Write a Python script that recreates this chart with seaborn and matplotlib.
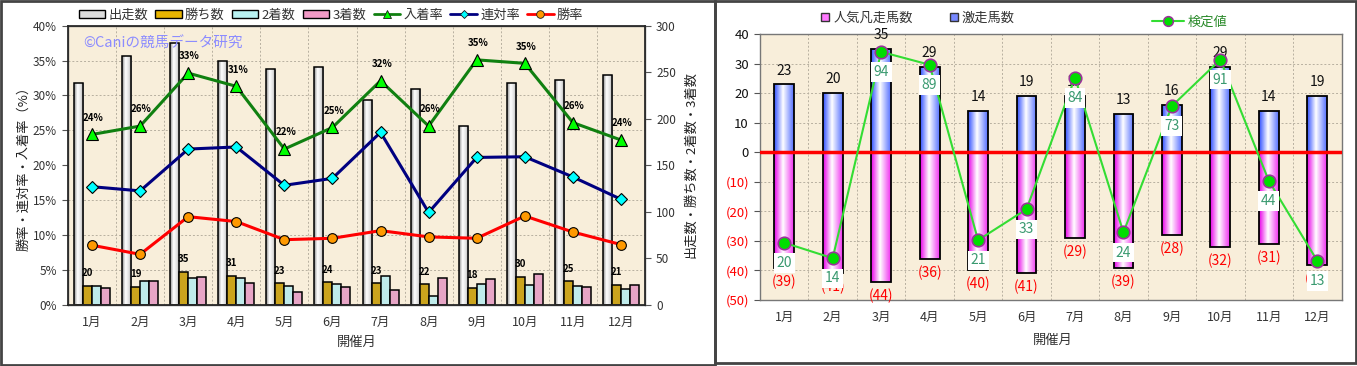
import numpy as np
import pandas as pd
import matplotlib
matplotlib.use("Agg")
import matplotlib.pyplot as plt
import seaborn as sns
from matplotlib.colors import LinearSegmentedColormap
from matplotlib.lines import Line2D
from matplotlib.patches import Patch, Rectangle

sns.set_theme(style="white")
plt.rcParams["font.family"] = ["Noto Sans CJK JP", "DejaVu Sans"]

# ---- data ----
months = ["1月", "2月", "3月", "4月", "5月", "6月", "7月", "8月", "9月", "10月", "11月", "12月"]

# left chart: counts
starts = [238, 267, 281, 262, 253, 256, 220, 232, 192, 238, 242, 247]
wins = [20, 19, 35, 31, 23, 24, 23, 22, 18, 30, 25, 21]
seconds = [20, 25, 28, 28, 20, 22, 31, 9, 22, 21, 20, 17]
thirds = [18, 25, 30, 23, 13, 19, 16, 29, 27, 33, 19, 21]
# left chart: rates (%)
place_rate = [24.4, 25.6, 33.2, 31.3, 22.3, 25.4, 32.1, 25.6, 35.1, 34.6, 26.1, 23.6]
quinella_rate = [16.9, 16.3, 22.3, 22.6, 17.1, 18.1, 24.7, 13.2, 21.1, 21.2, 18.3, 15.1]
win_rate = [8.5, 7.2, 12.6, 11.9, 9.3, 9.5, 10.6, 9.7, 9.5, 12.7, 10.4, 8.6]

# right chart
gekisou = [23, 20, 35, 29, 14, 19, 19, 13, 16, 29, 14, 19]
bonsou = [39, 41, 44, 36, 40, 41, 29, 39, 28, 32, 31, 38]
kentei = [20, 14, 94, 89, 21, 33, 84, 24, 73, 91, 44, 13]

bg = "#F8EEDA"
grid_kw = dict(color="#b8b0a0", linestyle=(0, (2, 2)), linewidth=0.7)
W, H = 1357, 366


def box(l, t, r, b):
    return [l / W, 1 - b / H, (r - l) / W, (b - t) / H]


def shade(ax, patch, cmap):
    # cylinder-like gradient clipped to the bar
    x0, y0 = patch.get_x(), patch.get_y()
    w, h = patch.get_width(), patch.get_height()
    grad = np.linspace(0, 1, 64).reshape(1, -1)
    im = ax.imshow(grad, extent=[x0, x0 + w, y0, y0 + h], aspect="auto",
                   cmap=cmap, origin="lower", zorder=patch.get_zorder() - 0.05)
    im.set_clip_path(patch)
    patch.set_facecolor("none")


cm_white = LinearSegmentedColormap.from_list("w", [(0, "#8a8a8a"), (0.35, "#ffffff"), (0.7, "#e0e0e0"), (1, "#9a9a9a")])
cm_blue = LinearSegmentedColormap.from_list("b", [(0, "#3050ff"), (0.45, "#ffffff"), (1, "#5570ff")])
cm_pink = LinearSegmentedColormap.from_list("p", [(0, "#e800e8"), (0.45, "#ffffff"), (1, "#f030f0")])

fig = plt.figure(figsize=(13.57, 3.66), dpi=100)
pos = np.arange(len(months))

# ================= left chart =================
ax = fig.add_axes(box(68, 25.7, 645, 304.5))
ax.set_facecolor(bg)

wide = pd.DataFrame({"開催月": months, "出走数": starts, "勝ち数": wins, "2着数": seconds, "3着数": thirds})
long = wide.melt(id_vars="開催月", var_name="系列", value_name="頭数")
bar_order = ["出走数", "勝ち数", "2着数", "3着数"]
bar_cols = ["#eeeeee", "#e8b400", "#b8f2f2", "#f29ac6"]
sns.barplot(data=long, x="開催月", y="頭数", hue="系列", hue_order=bar_order, palette=bar_cols,
            width=0.75, edgecolor="black", linewidth=1.1, legend=False, ax=ax, zorder=2)
for p in ax.containers[0]:
    shade(ax, p, cm_white)

ax2 = ax.twinx()

ax.set_xlim(-0.5, 11.5)
ax.set_ylim(0, 300)
ax.yaxis.tick_right()
ax.set_yticks(range(0, 301, 50))
ax.set_yticks(np.arange(0, 301, 37.5), minor=True)
ax.set_xticks(np.arange(-0.5, 12, 1), minor=True)
ax.set_axisbelow(True)
ax.grid(True, which="minor", **grid_kw)
ax.tick_params(axis="y", which="major", left=False, right=True, labelleft=False, labelright=True,
               length=4, width=0.8, color="#555", labelsize=8.5, labelcolor="#333", pad=4)
ax.tick_params(which="minor", length=0)
ax.tick_params(axis="x", length=0, labelsize=9, labelcolor="#333", pad=8)
ax.set_xlabel("")
ax.set_ylabel("")
for s in ax.spines.values():
    s.set_color("#666")
    s.set_linewidth(1)

ax2.set_ylim(0, 40)
ax2.yaxis.tick_left()
ax2.set_yticks(range(0, 41, 5))
ax2.set_yticklabels([f"{v}%" for v in range(0, 41, 5)])
ax2.tick_params(axis="y", left=True, right=False, labelleft=True, labelright=False, length=4,
                width=0.8, color="#555", labelsize=8.5, labelcolor="#333", pad=4)

sns.lineplot(x=pos, y=place_rate, ax=ax2, color="#108010", linewidth=2.2, marker="^",
             markersize=9, markerfacecolor="#00ff00", markeredgecolor="black", markeredgewidth=0.8)
sns.lineplot(x=pos, y=quinella_rate, ax=ax2, color="#000080", linewidth=2.2, marker="D",
             markersize=6, markerfacecolor="#00ffff", markeredgecolor="black", markeredgewidth=0.8)
sns.lineplot(x=pos, y=win_rate, ax=ax2, color="#ff0000", linewidth=2.2, marker="o",
             markersize=7, markerfacecolor="#ff9900", markeredgecolor="black", markeredgewidth=0.8)
ax2.set_xlim(-0.5, 11.5)
ax2.set_ylim(0, 40)
ax2.set_ylabel("")

for i, v in enumerate(place_rate):
    ax2.annotate(f"{v:.0f}%", (i, v), xytext=(1, 12), textcoords="offset points",
                 ha="center", va="center", fontsize=7, fontweight="bold", color="black")
for i, v in enumerate(wins):
    ax.annotate(str(v), (i - 0.094, v), xytext=(0, 9), textcoords="offset points",
                ha="center", va="center", fontsize=7, fontweight="bold", color="black")

ax2.text(0.026, 0.935, "©Caniの競馬データ研究", transform=ax2.transAxes, color="#8c8cff",
         fontsize=10.5, va="center", ha="left")

fig.text(24 / W, 1 - 165 / H, "勝率・連対率・入着率（%）", rotation=90, ha="center", va="center",
         fontsize=9.5, color="#222")
fig.text(691 / W, 1 - 165 / H, "出走数・勝ち数・2着数・3着数", rotation=90, ha="center", va="center",
         fontsize=9.5, color="#222")
fig.text(357 / W, 1 - 342 / H, "開催月", ha="center", va="center", fontsize=9.5, color="#333")

left_handles = [Patch(facecolor=c, edgecolor="black", linewidth=1) for c in ["#dddddd"] + bar_cols[1:]]
left_handles += [
    Line2D([], [], color="#108010", lw=2, marker="^", markersize=6, markerfacecolor="#00ff00", markeredgecolor="k", markeredgewidth=0.6),
    Line2D([], [], color="#000080", lw=2, marker="D", markersize=4.5, markerfacecolor="#00ffff", markeredgecolor="k", markeredgewidth=0.6),
    Line2D([], [], color="#ff0000", lw=2, marker="o", markersize=5.5, markerfacecolor="#ff9900", markeredgecolor="k", markeredgewidth=0.6),
]
left_labels = bar_order + ["入着率", "連対率", "勝率"]
fig.legend(left_handles, left_labels, loc="center", bbox_to_anchor=(331 / W, 1 - 15 / H),
           bbox_transform=fig.transFigure, ncol=7, frameon=False, fontsize=9.5,
           handlelength=2.0, handleheight=0.55, handletextpad=0.25, columnspacing=0.55, labelcolor="#333")

# ================= right chart =================
ax3 = fig.add_axes(box(760, 34.3, 1341.5, 300))
ax3.set_facecolor(bg)
sns.barplot(x=months, y=gekisou, color="#6677ff", width=0.41, edgecolor="black", linewidth=1.3,
            ax=ax3, zorder=2)
sns.barplot(x=months, y=[-v for v in bonsou], color="#ff66ff", width=0.41, edgecolor="black",
            linewidth=1.3, ax=ax3, zorder=2)
for p in ax3.containers[0]:
    shade(ax3, p, cm_blue)
for p in ax3.containers[1]:
    shade(ax3, p, cm_pink)

ax3.axhline(0, color="#ff0000", linewidth=2.5, zorder=3)
ax3.set_xlim(-0.5, 11.5)
ax3.set_ylim(-50, 40)
yt = list(range(-50, 41, 10))
ax3.set_yticks(yt)
ax3.set_yticklabels([f"({-v})" if v < 0 else str(v) for v in yt])
for t, v in zip(ax3.get_yticklabels(), yt):
    t.set_color("#ff0000" if v < 0 else "#111")
ax3.set_xticks(np.arange(-0.5, 12, 1), minor=True)
ax3.set_axisbelow(True)
ax3.grid(True, which="minor", axis="x", **grid_kw)
ax3.grid(True, which="major", axis="y", **grid_kw)
ax3.tick_params(axis="y", left=True, length=4, width=0.8, color="#555", labelsize=9.5, pad=4)
ax3.tick_params(which="minor", length=0)
ax3.tick_params(axis="x", length=0, labelsize=9, labelcolor="#333", pad=8)
ax3.set_xlabel("")
ax3.set_ylabel("")
for s in ax3.spines.values():
    s.set_color("#777")
    s.set_linewidth(1)

for i, v in enumerate(gekisou):
    ax3.annotate(str(v), (i, v), xytext=(0, 10), textcoords="offset points",
                 ha="center", va="center", fontsize=10, color="#111")
for i, v in enumerate(bonsou):
    ax3.annotate(f"({v})", (i, -v), xytext=(0, -10), textcoords="offset points",
                 ha="center", va="center", fontsize=10, color="#ff0000")

ax4 = ax3.twinx()
sns.lineplot(x=pos, y=kentei, ax=ax4, color="#33dd33", linewidth=1.5, marker="o", markersize=9,
             markerfacecolor="#00dd00", markeredgecolor="#993399", markeredgewidth=1.2)
ax4.set_ylim(-2.2, 100.8)
ax4.set_xlim(-0.5, 11.5)
ax4.set_yticks([])
ax4.set_ylabel("")
for s in ax4.spines.values():
    s.set_visible(False)
for i, v in enumerate(kentei):
    ax4.annotate(str(v), (i, v), xytext=(0, -14.5), textcoords="offset points",
                 ha="center", va="center", fontsize=10, color="#3a9a70",
                 bbox=dict(boxstyle="square,pad=0.2", facecolor="white", edgecolor="none"))

fig.text(1053 / W, 1 - 340 / H, "開催月", ha="center", va="center", fontsize=9.5, color="#333")

right_handles = [
    Line2D([], [], lw=0, marker="s", markersize=6, markerfacecolor="#ff77ff", markeredgecolor="#333"),
    Line2D([], [], lw=0, marker="s", markersize=6, markerfacecolor="#7788ff", markeredgecolor="#333"),
]
fig.legend(right_handles, ["人気凡走馬数", "激走馬数"], loc="center", bbox_to_anchor=(918 / W, 1 - 18 / H),
           bbox_transform=fig.transFigure, ncol=2, frameon=False, fontsize=9.5,
           handlelength=0.6, handletextpad=0.3, columnspacing=2.8, labelcolor="#333")
kh = [Line2D([], [], color="#33dd33", lw=1.5, marker="o", markersize=7,
             markerfacecolor="#00dd00", markeredgecolor="#993399", markeredgewidth=1.1)]
fig.legend(kh, ["検定値"], loc="center", bbox_to_anchor=(1190 / W, 1 - 22 / H),
           bbox_transform=fig.transFigure, frameon=False, fontsize=9.5,
           handlelength=2.4, handletextpad=0.3, labelcolor="#2a8a2a")

# panel frames
fig.add_artist(Rectangle((1 / W, 1 - 365 / H), 714 / W, 364 / H, fill=False, edgecolor="#444",
                         linewidth=2, transform=fig.transFigure))
fig.add_artist(Rectangle((715 / W, 1 - 363 / H), 641 / W, 362 / H, fill=False, edgecolor="#444",
                         linewidth=2, transform=fig.transFigure))

fig.savefig("out.png", dpi=100)
